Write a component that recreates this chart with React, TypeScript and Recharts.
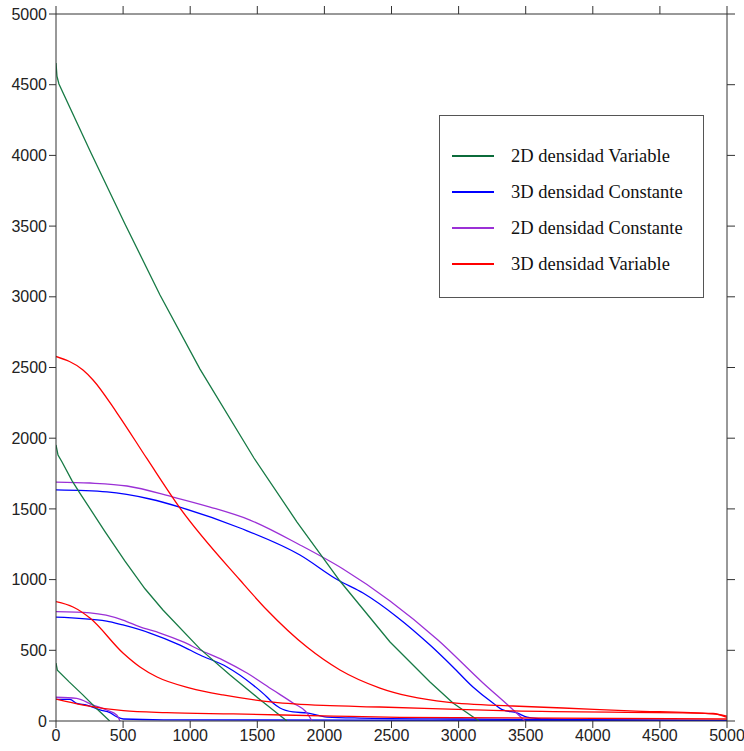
import React from 'react';
import { LineChart, Line, XAxis, YAxis, Legend } from 'recharts';

const xTicks = [0, 500, 1000, 1500, 2000, 2500, 3000, 3500, 4000, 4500, 5000];
const yTicks = [0, 500, 1000, 1500, 2000, 2500, 3000, 3500, 4000, 4500, 5000];

const legendLabels = ['2D densidad Variable', '3D densidad Constante', '2D densidad Constante', '3D densidad Variable'];

const GREEN = '#177a45';
const BLUE = '#0000ff';
const PURPLE = '#9b30d6';
const RED = '#ff0000';

// 2D densidad Variable (green)
const green2DVarA = [
  { x: 0, y: 4653 }, { x: 7, y: 4561 }, { x: 22, y: 4505 }, { x: 261, y: 4017 }, { x: 514, y: 3515 },
  { x: 775, y: 3013 }, { x: 1073, y: 2489 }, { x: 1475, y: 1860 }, { x: 1796, y: 1407 },
  { x: 2116, y: 990 }, { x: 2489, y: 559 }, { x: 2787, y: 276 }, { x: 2958, y: 127 }, { x: 3152, y: 0 },
];
const green2DVarB = [
  { x: 0, y: 1952 }, { x: 15, y: 1881 }, { x: 45, y: 1832 }, { x: 119, y: 1700 }, { x: 179, y: 1610 },
  { x: 365, y: 1340 }, { x: 514, y: 1130 }, { x: 663, y: 935 }, { x: 797, y: 785 }, { x: 1073, y: 510 },
  { x: 1297, y: 325 }, { x: 1505, y: 163 }, { x: 1721, y: 0 },
];
const green2DVarC = [
  { x: 0, y: 410 }, { x: 10, y: 360 }, { x: 100, y: 275 }, { x: 200, y: 185 }, { x: 300, y: 90 }, { x: 400, y: 0 },
];

// 3D densidad Constante (blue)
const blue3DConA = [
  { x: 0, y: 1634 }, { x: 380, y: 1620 }, { x: 700, y: 1570 }, { x: 946, y: 1506 }, { x: 1371, y: 1365 },
  { x: 1818, y: 1174 }, { x: 2101, y: 997 }, { x: 2288, y: 905 }, { x: 2541, y: 736 }, { x: 2787, y: 537 },
  { x: 2958, y: 382 }, { x: 3107, y: 240 }, { x: 3256, y: 127 }, { x: 3331, y: 78 }, { x: 3435, y: 57 },
  { x: 3510, y: 28 }, { x: 3659, y: 14 }, { x: 4000, y: 8 }, { x: 5000, y: 3 },
];
const blue3DConB = [
  { x: 0, y: 735 }, { x: 377, y: 707 }, { x: 499, y: 679 }, { x: 700, y: 622 }, { x: 924, y: 537 },
  { x: 1073, y: 467 }, { x: 1274, y: 382 }, { x: 1468, y: 255 }, { x: 1572, y: 170 }, { x: 1617, y: 127 },
  { x: 1669, y: 92 }, { x: 1766, y: 64 }, { x: 1870, y: 57 }, { x: 2019, y: 28 }, { x: 2265, y: 21 },
  { x: 3000, y: 14 }, { x: 5000, y: 5 },
];
const blue3DConC = [
  { x: 0, y: 153 }, { x: 104, y: 153 }, { x: 154, y: 125 }, { x: 229, y: 113 }, { x: 328, y: 78 },
  { x: 402, y: 59 }, { x: 452, y: 30 }, { x: 502, y: 14 }, { x: 800, y: 8 }, { x: 5000, y: 3 },
];

// 2D densidad Constante (purple)
const purple2DConA = [
  { x: 0, y: 1690 }, { x: 253, y: 1683 }, { x: 529, y: 1662 }, { x: 872, y: 1584 }, { x: 1148, y: 1513 },
  { x: 1446, y: 1421 }, { x: 1818, y: 1245 }, { x: 2139, y: 1075 }, { x: 2489, y: 849 }, { x: 2846, y: 573 },
  { x: 3182, y: 269 }, { x: 3383, y: 99 }, { x: 3495, y: 0 },
];
const purple2DConB = [
  { x: 0, y: 773 }, { x: 253, y: 764 }, { x: 499, y: 714 }, { x: 626, y: 665 }, { x: 775, y: 622 },
  { x: 948, y: 559 }, { x: 1073, y: 502 }, { x: 1244, y: 431 }, { x: 1423, y: 339 }, { x: 1617, y: 219 },
  { x: 1766, y: 127 }, { x: 1870, y: 57 }, { x: 1907, y: 0 },
];
const purple2DConC = [
  { x: 0, y: 168 }, { x: 154, y: 160 }, { x: 276, y: 113 }, { x: 378, y: 78 }, { x: 452, y: 42 }, { x: 477, y: 0 },
];

// 3D densidad Variable (red)
const red3DVarA = [
  { x: 0, y: 2578 }, { x: 201, y: 2482 }, { x: 276, y: 2412 }, { x: 455, y: 2178 }, { x: 678, y: 1855 },
  { x: 924, y: 1506 }, { x: 1371, y: 997 }, { x: 1572, y: 785 }, { x: 1870, y: 523 }, { x: 2116, y: 361 },
  { x: 2414, y: 233 }, { x: 2913, y: 134 }, { x: 3405, y: 106 }, { x: 3778, y: 92 }, { x: 4277, y: 72 },
  { x: 4896, y: 50 }, { x: 5000, y: 35 },
];
const red3DVarB = [
  { x: 0, y: 844 }, { x: 127, y: 806 }, { x: 253, y: 728 }, { x: 499, y: 481 }, { x: 626, y: 382 },
  { x: 753, y: 311 }, { x: 999, y: 233 }, { x: 1244, y: 184 }, { x: 1617, y: 134 }, { x: 1990, y: 110 },
  { x: 2414, y: 99 }, { x: 3405, y: 71 }, { x: 4896, y: 53 }, { x: 5000, y: 25 },
];
const red3DVarC = [
  { x: 0, y: 155 }, { x: 203, y: 113 }, { x: 502, y: 73 }, { x: 825, y: 59 }, { x: 1320, y: 50 },
  { x: 2066, y: 35 }, { x: 2563, y: 26 }, { x: 5000, y: 14 },
];

const series = [
  { key: 'bC', data: blue3DConC, color: BLUE, curve: 'monotone' },
  { key: 'bB', data: blue3DConB, color: BLUE, curve: 'monotone' },
  { key: 'bA', data: blue3DConA, color: BLUE, curve: 'monotone' },
  { key: 'pC', data: purple2DConC, color: PURPLE, curve: 'monotone' },
  { key: 'pB', data: purple2DConB, color: PURPLE, curve: 'monotone' },
  { key: 'pA', data: purple2DConA, color: PURPLE, curve: 'monotone' },
  { key: 'gC', data: green2DVarC, color: GREEN, curve: 'linear' },
  { key: 'gB', data: green2DVarB, color: GREEN, curve: 'linear' },
  { key: 'gA', data: green2DVarA, color: GREEN, curve: 'linear' },
  { key: 'rC', data: red3DVarC, color: RED, curve: 'monotone' },
  { key: 'rB', data: red3DVarB, color: RED, curve: 'monotone' },
  { key: 'rA', data: red3DVarA, color: RED, curve: 'monotone' },
];

const legendColors = ['#0b6b3a', BLUE, PURPLE, RED];
const legendRowTops = [40, 76, 112, 148];

const renderLegend = () => (
  <div
    style={{
      width: 265,
      height: 183,
      boxSizing: 'border-box',
      border: '1.5px solid #555',
      background: '#fff',
      position: 'relative',
    }}
  >
    {legendLabels.map((label, i) => (
      <div key={label} style={{ position: 'absolute', left: 0, top: legendRowTops[i] - 12, height: 24, width: 263 }}>
        <svg width={60} height={24} style={{ position: 'absolute', left: 0, top: 0 }}>
          <line x1={12} y1={12} x2={54} y2={12} stroke={legendColors[i]} strokeWidth={2} />
        </svg>
        <span
          style={{
            position: 'absolute',
            left: 71,
            top: 0,
            lineHeight: '24px',
            fontFamily: '"Liberation Serif", "Times New Roman", serif',
            fontSize: 18.5,
            color: '#111',
            whiteSpace: 'nowrap',
          }}
        >
          {label}
        </span>
      </div>
    ))}
  </div>
);

const tickStyle = { fontFamily: '"Liberation Sans", Arial, sans-serif', fontSize: 16, fill: '#222' };

export default function App() {
  return (
    <div style={{ position: 'absolute', left: 0, top: 0, width: 744, height: 751, background: '#fff' }}>
      <LineChart width={744} height={751} margin={{ top: 13, right: 16, bottom: 0, left: 0 }}>
        <XAxis
          xAxisId="b"
          type="number"
          dataKey="x"
          domain={[0, 5000]}
          ticks={xTicks}
          height={30}
          tickSize={7}
          tickMargin={2}
          tick={tickStyle}
          stroke="#333"
          tickLine={{ stroke: '#333' }}
          allowDataOverflow
        />
        <XAxis
          xAxisId="t"
          orientation="top"
          type="number"
          dataKey="x"
          domain={[0, 5000]}
          ticks={xTicks}
          height={1}
          tickSize={8}
          tickFormatter={() => ''}
          stroke="#333"
          allowDataOverflow
        />
        <YAxis
          yAxisId="l"
          type="number"
          domain={[0, 5000]}
          ticks={yTicks}
          width={56}
          tickSize={7}
          tickMargin={2}
          tick={tickStyle}
          stroke="#333"
          allowDataOverflow
        />
        <YAxis
          yAxisId="r"
          orientation="right"
          type="number"
          domain={[0, 5000]}
          ticks={yTicks}
          width={1}
          tickSize={8}
          tickFormatter={() => ''}
          stroke="#333"
          allowDataOverflow
        />
        <Legend
          layout="vertical"
          align="center"
          verticalAlign="middle"
          content={renderLegend}
          wrapperStyle={{ position: 'absolute', left: 439, top: 115, width: 265, height: 183 }}
        />
        {series.map((s) => (
          <Line
            key={s.key}
            xAxisId="b"
            yAxisId="l"
            data={s.data}
            dataKey="y"
            type={s.curve as any}
            stroke={s.color}
            strokeWidth={1.3}
            dot={false}
            activeDot={false}
            isAnimationActive={false}
            legendType="none"
          />
        ))}
      </LineChart>
    </div>
  );
}
